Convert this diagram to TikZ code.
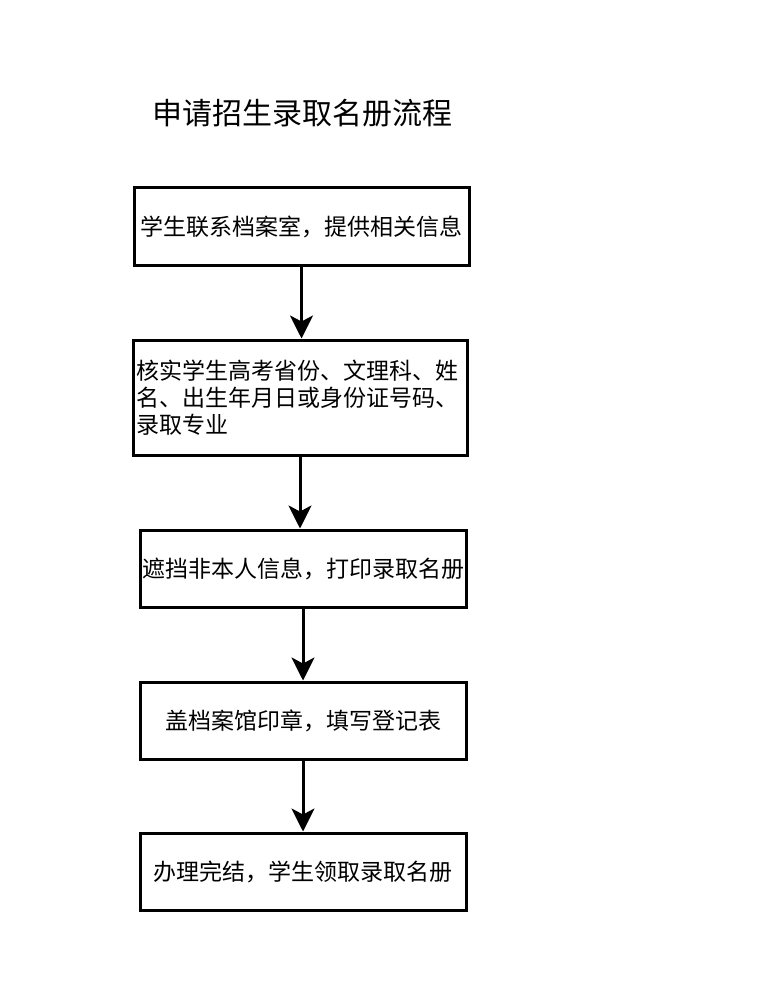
\documentclass[tikz,border=0pt]{standalone}
\usepackage{fontspec}
\setmainfont{Noto Sans CJK SC}
\usetikzlibrary{arrows.meta}
\begin{document}
\begin{tikzpicture}[x=1pt,y=-1pt,
  stepbox/.style={draw=black,line width=3pt,fill=white,inner sep=0pt,
    font=\fontsize{23}{27}\selectfont,align=center},
  arr/.style={line width=3pt,-{Stealth[length=23pt,width=23pt,inset=6pt]}}]
\useasboundingbox (0,0) rectangle (783,984);
\node[font=\fontsize{30}{36}\selectfont] (title) at (302.5,113) {申请招生录取名册流程};
\node[stepbox,minimum width=335pt,minimum height=77pt] (b1) at (301.5,226.5) {学生联系档案室，提供相关信息};
\node[stepbox,minimum width=334pt,minimum height=115pt,text width=328pt,align=left] (b2) at (300,397.5) {核实学生高考省份、文理科、姓\\名、出生年月日或身份证号码、\\录取专业};
\node[stepbox,minimum width=326pt,minimum height=77pt] (b3) at (303,568.5) {遮挡非本人信息，打印录取名册};
\node[stepbox,minimum width=326pt,minimum height=77pt] (b4) at (303,720.5) {盖档案馆印章，填写登记表};
\node[stepbox,minimum width=326pt,minimum height=77pt] (b5) at (303,871.5) {办理完结，学生领取录取名册};
\draw[arr] (b1.south) -- (b1.south |- b2.north);
\draw[arr] (b2.south) -- (b2.south |- b3.north);
\draw[arr] (b3.south) -- (b3.south |- b4.north);
\draw[arr] (b4.south) -- (b4.south |- b5.north);
\end{tikzpicture}
\end{document}
